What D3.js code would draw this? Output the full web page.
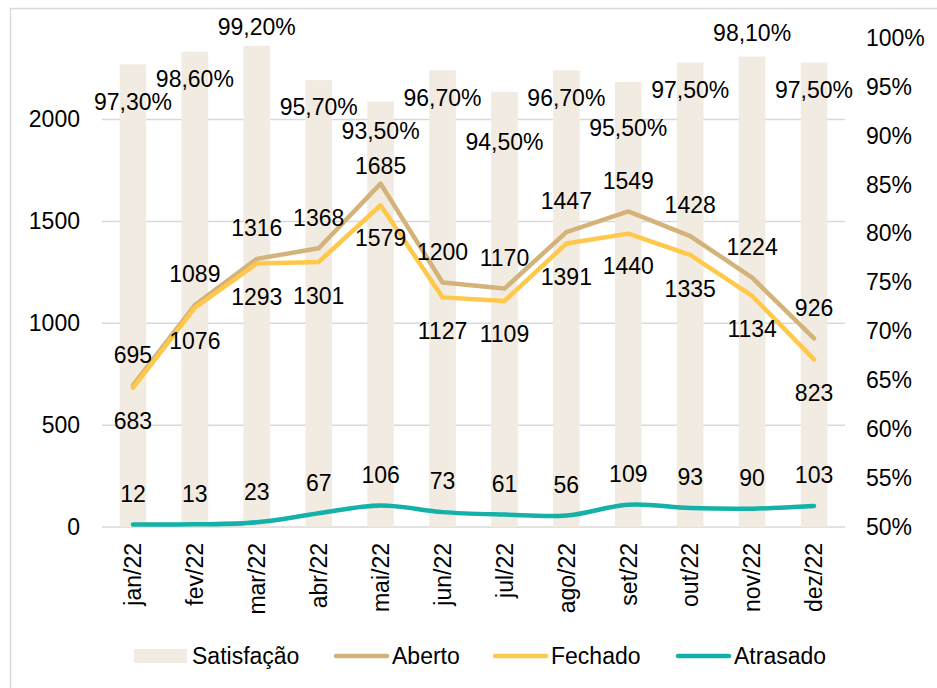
<!DOCTYPE html>
<html>
<head>
<meta charset="utf-8">
<script src="https://cdn.jsdelivr.net/npm/d3@7"></script>
<style>
  html, body { margin: 0; padding: 0; background: #fff; }
  svg { display: block; font-family: "Liberation Sans", Arial, sans-serif; }
</style>
</head>
<body>
<svg id="chart" width="937" height="688"></svg>
<script>
// Monthly tickets: satisfaction rate (bars, right axis) and counts (lines, left axis)
const months = ["jan/22", "fev/22", "mar/22", "abr/22", "mai/22", "jun/22",
                "jul/22", "ago/22", "set/22", "out/22", "nov/22", "dez/22"];
const satisfacao = [0.973, 0.986, 0.992, 0.957, 0.935, 0.967, 0.945, 0.967, 0.955, 0.975, 0.981, 0.975];
const aberto   = [695, 1089, 1316, 1368, 1685, 1200, 1170, 1447, 1549, 1428, 1224, 926];
const fechado  = [683, 1076, 1293, 1301, 1579, 1127, 1109, 1391, 1440, 1335, 1134, 823];
const atrasado = [12, 13, 23, 67, 106, 73, 61, 56, 109, 93, 90, 103];
const leftTicks  = [0, 500, 1000, 1500, 2000];
const rightTicks = [0.50, 0.55, 0.60, 0.65, 0.70, 0.75, 0.80, 0.85, 0.90, 0.95, 1.00];

// Label placement (pixel offset of each label's centre from its mark)
const satLabelDy      = [37, 27, -19, 27, 29, 27, 50, 27, 46, 27, -24, 27];
const abertoLabelDy   = [-31, -31, -31, -31, -18, -31, -31, -31, -31, -31, -31, -31];
const fechadoLabelDy  = [33, 33, 33, 34, 32, 33, 33, 33, 32, 34, 33, 33];
const atrasadoLabelDy = [-31, -31, -31, -31, -31, -31, -31, -31, -31, -31, -31, -31];

const colors = {
  satisfacao: "#F2EBE1",
  aberto: "#D4B37A",
  fechado: "#FFC84A",
  atrasado: "#13B1A8",
  grid: "#D9D9D9",
  text: "#000000"
};
const FONT = 23;

const ptBR = d3.formatLocale({ decimal: ",", thousands: ".", grouping: [3], currency: ["R$", ""] });
const pct2 = ptBR.format(".2%");
const pct0 = ptBR.format(".0%");
const int0 = d3.format("d");

const svg = d3.select("#chart");

// outer chart frame
svg.append("rect")
  .attr("x", 10.5).attr("y", 8.5)
  .attr("width", 940).attr("height", 700)
  .attr("fill", "#fff").attr("stroke", "#D9D9D9").attr("stroke-width", 1.5);

const plot = { left: 102, right: 845, top: 38, bottom: 527 };

const x = d3.scaleBand().domain(months).range([plot.left, plot.right]).padding(0);
const cx = d => x(d) + x.bandwidth() / 2;
const yL = d3.scaleLinear().domain([0, 2400]).range([plot.bottom, plot.top]);
const yR = d3.scaleLinear().domain([0.5, 1.0]).range([plot.bottom, plot.top]);
const barW = x.bandwidth() * 0.43;

// horizontal gridlines (left axis)
svg.append("g").selectAll("line").data(leftTicks).join("line")
  .attr("x1", plot.left).attr("x2", plot.right)
  .attr("y1", d => yL(d)).attr("y2", d => yL(d))
  .attr("stroke", colors.grid).attr("stroke-width", 1.5);

// satisfaction bars
svg.append("g").selectAll("rect").data(months).join("rect")
  .attr("x", (m) => cx(m) - barW / 2)
  .attr("width", barW)
  .attr("y", (m, i) => yR(satisfacao[i]))
  .attr("height", (m, i) => yR(0.5) - yR(satisfacao[i]))
  .attr("fill", colors.satisfacao);

// lines
function drawLine(values, color, curve) {
  const line = d3.line()
    .x((v, i) => cx(months[i]))
    .y(v => yL(v))
    .curve(curve);
  svg.append("path")
    .datum(values)
    .attr("d", line)
    .attr("fill", "none")
    .attr("stroke", color)
    .attr("stroke-width", 4.5)
    .attr("stroke-linejoin", "round")
    .attr("stroke-linecap", "round");
}
drawLine(aberto, colors.aberto, d3.curveLinear);
drawLine(fechado, colors.fechado, d3.curveLinear);
drawLine(atrasado, colors.atrasado, d3.curveCatmullRom);

// data labels
function drawLabels(values, yScale, dys, fmt) {
  svg.append("g").selectAll("text").data(values).join("text")
    .attr("x", (v, i) => cx(months[i]))
    .attr("y", (v, i) => yScale(v) + dys[i])
    .attr("dy", "0.36em")
    .attr("text-anchor", "middle")
    .attr("font-size", FONT)
    .attr("fill", colors.text)
    .text(fmt);
}
drawLabels(satisfacao, yR, satLabelDy, pct2);
drawLabels(aberto, yL, abertoLabelDy, int0);
drawLabels(fechado, yL, fechadoLabelDy, int0);
drawLabels(atrasado, yL, atrasadoLabelDy, int0);

// left axis
const axL = svg.append("g")
  .attr("transform", `translate(${plot.left},0)`)
  .call(d3.axisLeft(yL).tickValues(leftTicks).tickFormat(int0).tickSize(0).tickPadding(22));
axL.select(".domain").remove();
axL.selectAll("text").attr("font-size", FONT).attr("font-family", null).attr("fill", colors.text);

// right axis
const axR = svg.append("g")
  .attr("transform", `translate(${plot.right},0)`)
  .call(d3.axisRight(yR).tickValues(rightTicks).tickFormat(pct0).tickSize(0).tickPadding(21));
axR.select(".domain").remove();
axR.selectAll("text").attr("font-size", FONT).attr("font-family", null).attr("fill", colors.text);

// bottom axis, rotated month labels
const axB = svg.append("g")
  .attr("transform", `translate(0,${plot.bottom})`)
  .call(d3.axisBottom(x).tickSize(0));
axB.select(".domain").remove();
axB.selectAll("text")
  .attr("font-size", FONT).attr("font-family", null).attr("fill", colors.text)
  .attr("text-anchor", "end")
  .attr("x", 0).attr("y", 0)
  .attr("dy", "0.36em")
  .attr("transform", "translate(0,16) rotate(-90)");

// legend
const legendY = 656;
const legendItems = [
  { name: "Satisfação", color: colors.satisfacao, type: "bar", x: 134 },
  { name: "Aberto", color: colors.aberto, type: "line", x: 334 },
  { name: "Fechado", color: colors.fechado, type: "line", x: 493 },
  { name: "Atrasado", color: colors.atrasado, type: "line", x: 676 }
];
const lg = svg.append("g");
legendItems.forEach(it => {
  if (it.type === "bar") {
    lg.append("rect").attr("x", it.x).attr("y", legendY - 7)
      .attr("width", 53).attr("height", 14).attr("fill", it.color);
  } else {
    lg.append("line").attr("x1", it.x + 2).attr("x2", it.x + 53)
      .attr("y1", legendY).attr("y2", legendY)
      .attr("stroke", it.color).attr("stroke-width", 4.5).attr("stroke-linecap", "round");
  }
  lg.append("text").attr("x", it.x + 58).attr("y", legendY).attr("dy", "0.36em")
    .attr("font-size", FONT).attr("fill", colors.text).text(it.name);
});
</script>
</body>
</html>
